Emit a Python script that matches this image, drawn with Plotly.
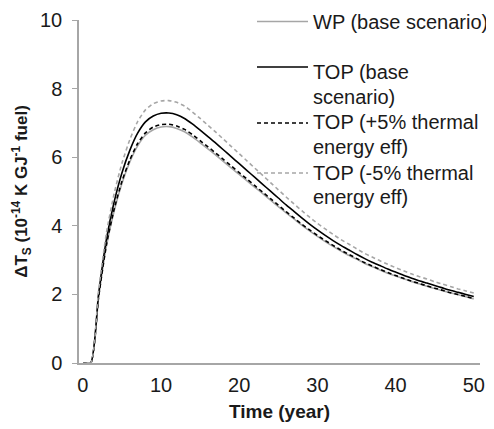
import plotly.graph_objects as go

years = list(range(0, 51))

wp_base = [0, 0, 1.89, 3.40, 4.44, 5.24, 5.86, 6.33, 6.64, 6.80, 6.88, 6.89, 6.84, 6.74, 6.59, 6.42,
           6.24, 6.06, 5.87, 5.68, 5.50, 5.31, 5.12, 4.94, 4.75, 4.56, 4.38, 4.20, 4.02, 3.85, 3.69,
           3.54, 3.40, 3.27, 3.14, 3.03, 2.91, 2.81, 2.71, 2.62, 2.54, 2.46, 2.38, 2.31, 2.24, 2.17,
           2.11, 2.05, 1.99, 1.93, 1.87]
top_base = [0, 0, 2.00, 3.60, 4.70, 5.55, 6.20, 6.70, 7.03, 7.20, 7.28, 7.29, 7.24, 7.13, 6.97, 6.79,
            6.60, 6.41, 6.21, 6.01, 5.81, 5.61, 5.41, 5.21, 5.01, 4.81, 4.61, 4.42, 4.23, 4.05, 3.88,
            3.72, 3.57, 3.43, 3.30, 3.17, 3.05, 2.94, 2.84, 2.74, 2.65, 2.56, 2.48, 2.40, 2.33, 2.26,
            2.19, 2.12, 2.06, 2.00, 1.94]
top_plus5 = [0, 0, 1.91, 3.44, 4.49, 5.30, 5.92, 6.40, 6.71, 6.88, 6.95, 6.96, 6.91, 6.81, 6.66, 6.48,
             6.30, 6.12, 5.93, 5.74, 5.55, 5.36, 5.17, 4.98, 4.79, 4.60, 4.41, 4.23, 4.05, 3.88, 3.72,
             3.57, 3.43, 3.29, 3.17, 3.05, 2.93, 2.83, 2.73, 2.64, 2.55, 2.47, 2.39, 2.32, 2.25, 2.18,
             2.12, 2.05, 2.00, 1.94, 1.88]
top_minus5 = [0, 0, 2.10, 3.78, 4.94, 5.83, 6.51, 7.04, 7.38, 7.56, 7.64, 7.65, 7.60, 7.49, 7.32, 7.13,
              6.93, 6.73, 6.52, 6.31, 6.10, 5.89, 5.68, 5.47, 5.26, 5.05, 4.84, 4.64, 4.44, 4.25, 4.07,
              3.91, 3.75, 3.60, 3.47, 3.33, 3.20, 3.09, 2.98, 2.88, 2.78, 2.69, 2.60, 2.52, 2.45, 2.37,
              2.30, 2.23, 2.16, 2.10, 2.04]

x_ticks = [0, 10, 20, 30, 40, 50]
y_ticks = [0, 2, 4, 6, 8, 10]

GRAY = "#a6a6a6"
FONT = "Liberation Sans, Arial, sans-serif"
TXT = "#1a1a1a"

series = [
    ("WP (base scenario)", wp_base, GRAY, "solid", ["WP (base scenario)"]),
    ("TOP (base scenario)", top_base, "black", "solid", ["TOP (base", "scenario)"]),
    ("TOP (+5% thermal energy eff)", top_plus5, "black", "4px,3px", ["TOP (+5% thermal", "energy eff)"]),
    ("TOP (-5% thermal energy eff)", top_minus5, GRAY, "4px,3px", ["TOP (-5% thermal", "energy eff)"]),
]

fig = go.Figure()
for name, vals, col, dash, _ in series:
    fig.add_trace(go.Scatter(x=years, y=vals, mode="lines", name=name,
                             line=dict(color=col, width=1.6, dash=dash, shape="spline", smoothing=0.6),
                             showlegend=False))

# page offset of the plot div (default body margin)
OFF = 8
W, H = 494 - OFF, 429 - OFF
# plot area in page pixels
L, R, T, B = 79 - OFF, 480 - OFF, 20 - OFF, 363 - OFF


def px(x):
    return (x - OFF - L) / (R - L)


def py(y):
    return (B - (y - OFF)) / (B - T)


legend_rows = [21.5, 67, 123, 173]
text_rows = [[22], [72, 97], [122, 147], [173, 197.5]]
shapes = []
annotations = []
for (name, vals, col, dash, lines), ly, trows in zip(series, legend_rows, text_rows):
    shapes.append(dict(type="line", xref="paper", yref="paper", x0=px(257), x1=px(308),
                       y0=py(ly), y1=py(ly), line=dict(color=col, width=1.6, dash=dash)))
    for t, ty in zip(lines, trows):
        annotations.append(dict(text=t, xref="paper", yref="paper", x=px(311), y=py(ty),
                                xanchor="left", yanchor="middle", showarrow=False,
                                font=dict(family=FONT, size=20, color=TXT)))

fig.update_layout(
    width=W, height=H,
    margin=dict(l=L, r=W - R, t=T, b=H - B),
    paper_bgcolor="white", plot_bgcolor="white",
    font=dict(family=FONT, size=20, color=TXT),
    shapes=shapes, annotations=annotations,
    xaxis=dict(range=[-0.5, 50.8], tickvals=x_ticks, ticks="", showgrid=False, zeroline=False,
               showline=True, linecolor=GRAY, linewidth=1.5, automargin=False,
               tickfont=dict(size=20), ticklabelstandoff=3,
               title=dict(text="<b>Time (year)</b>", font=dict(size=19), standoff=10)),
    yaxis=dict(range=[0, 10], tickvals=y_ticks, ticks="outside", ticklen=5, tickcolor=GRAY,
               showgrid=False, zeroline=False, showline=True, linecolor=GRAY, linewidth=1.5,
               automargin=False, tickfont=dict(size=20), ticklabelstandoff=6,
               title=dict(text="<b>ΔT<sub>S</sub> (10<sup>-14</sup> K GJ<sup>-1</sup> fuel)</b>",
                          font=dict(size=17), standoff=8)),
)

fig.write_html("out.html")
